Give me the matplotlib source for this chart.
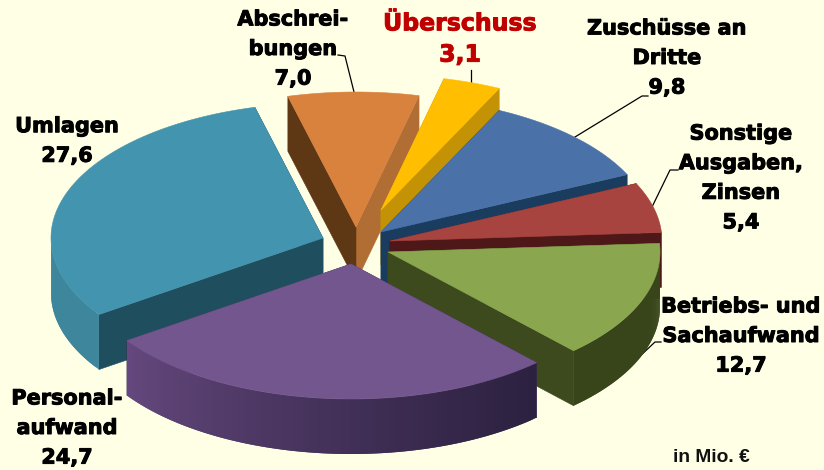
import numpy as np
import matplotlib
matplotlib.use('Agg')
import matplotlib.pyplot as plt
import matplotlib.patheffects as pe
from matplotlib.patches import Polygon
from matplotlib.colors import to_rgb

# Werte in Mio. Euro, im Uhrzeigersinn ab dem Überschuss
names = ['Überschuss', 'Zuschüsse', 'Sonstige', 'Betriebs', 'Personal', 'Umlagen', 'Abschreibungen']
values = [3.1, 9.8, 5.4, 12.7, 24.7, 27.6, 7.0]
label_texts = ['Überschuss\n3,1', 'Zuschüsse an\nDritte\n9,8', 'Sonstige\nAusgaben,\nZinsen\n5,4',
               'Betriebs- und\nSachaufwand\n12,7', 'Personal-\naufwand\n24,7', 'Umlagen\n27,6',
               'Abschrei-\nbungen\n7,0']

# Layout in Pixeln des Bildes
start_angle = 76.6
rx, ry = 272, 135
depth = 55
apex = [(381, 210), (381, 232), (390, 241), (388, 252), (351, 264), (323, 238), (356, 227)]
label_pos = [(460, 39), (667, 58), (741, 178), (741, 336), (67, 428), (67, 141), (293, 49)]
draw_order = [6, 5, 0, 1, 2, 3, 4]

BG = '#FFFFE6'
top_colors = ['#FFBF00', '#4A72A8', '#A84440', '#8AA64E', '#73568E', '#4394AE', '#D8823E']
# Seitenwand am Anfang und Ende der Scheibe (im Uhrzeigersinn)
wall_first = ['#C39305', '#1A3C5E', '#4F1818', '#3C4A1E', '#3A2C50', '#1F4E5F', '#5E3715']
wall_last = ['#C39305', '#1A3C5E', '#4F1818', '#3C4A1E', '#3A2C50', '#1F4E5F', '#B06E35']
# Verlauf der Außenwand, von links nach rechts
rim_left = ['#C39305', '#1A3C5E', '#4F1818', '#38451B', '#66497F', '#3E869C', '#B06E35']
rim_right = ['#C39305', '#1A3C5E', '#4F1818', '#38451B', '#2C2140', '#3E869C', '#B06E35']

# Führungslinien: Knick an der Beschriftung bis zum Rand der Scheibe
leaders = [
    ([471, 471], [70, 84]),
    ([648, 642, 575], [96, 96, 137]),
    ([678, 670, 652], [170, 170, 207]),
    ([661, 655, 638], [342, 342, 358]),
    ([338, 345, 354], [55, 56, 92]),
]

fig, ax = plt.subplots(figsize=(8.24, 4.7), dpi=100)
fig.patch.set_facecolor(BG)
ax.set_position([0, 0, 1, 1])
ax.set_xlim(0, 824)
ax.set_ylim(470, 0)
ax.axis('off')


def poly(points, color, z):
    ax.add_patch(Polygon(points, closed=True, facecolor=color, edgecolor=color, linewidth=0.4, zorder=z))


def draw_slice(i, a0, a1, z):
    """Eine Scheibe: Seitenwände, Außenwand, Deckel. a0 > a1, Grad."""
    cx, cy = apex[i]
    t = np.radians(np.linspace(a0, a1, 90))
    xs = cx + rx * np.cos(t)
    ys = cy - ry * np.sin(t)

    # Seitenwände
    poly([(cx, cy), (xs[-1], ys[-1]), (xs[-1], ys[-1] + depth), (cx, cy + depth)], wall_last[i], z)
    poly([(cx, cy), (xs[0], ys[0]), (xs[0], ys[0] + depth), (cx, cy + depth)], wall_first[i], z)

    # Außenwand in schmalen Streifen, nur der vordere Teil ist sichtbar.
    # Die Streifen überlappen, damit keine hellen Fugen entstehen.
    left, right = np.array(to_rgb(rim_left[i])), np.array(to_rgb(rim_right[i]))
    xmin, xmax = xs.min(), xs.max()
    front = np.where(np.sin(t) < 0)[0]
    for k in front[:-1]:
        m = min(k + 2, len(t) - 1)
        f = (((xs[k] + xs[k + 1]) / 2 - xmin) / (xmax - xmin)) ** 0.75
        seg = [(xs[j], ys[j]) for j in range(k, m + 1)] + [(xs[j], ys[j] + depth) for j in range(m, k - 1, -1)]
        ax.add_patch(Polygon(seg, closed=True, facecolor=tuple(left + (right - left) * f),
                             edgecolor='none', zorder=z + 0.1 + k * 0.001))

    # Deckel
    poly(np.column_stack([np.r_[cx, xs], np.r_[cy, ys]]), top_colors[i], z + 0.5)


shares = np.array(values) / sum(values) * 360
ends = start_angle - np.cumsum(shares)
starts = ends + shares

for n, i in enumerate(draw_order):
    draw_slice(i, starts[i], ends[i], 2 + n)

for lx, ly in leaders:
    ax.plot(lx, ly, color='black', linewidth=0.9, zorder=1)

for i, txt in enumerate(label_texts):
    red = names[i] == 'Überschuss'
    col = '#C00000' if red else 'black'
    ax.text(label_pos[i][0], label_pos[i][1], txt, ha='center', va='center', multialignment='center',
            fontfamily='DejaVu Sans', fontweight='bold', fontsize=17 if red else 15,
            color=col, linespacing=1.38 if red else 1.6, zorder=20,
            path_effects=[pe.withStroke(linewidth=0.7, foreground=col)])

ax.text(711, 457, 'in Mio. €', ha='center', va='center', fontfamily='Liberation Sans',
        fontweight='bold', fontsize=13.8, color='#111111', zorder=20)

fig.savefig('out.png', dpi=100, facecolor=BG)
